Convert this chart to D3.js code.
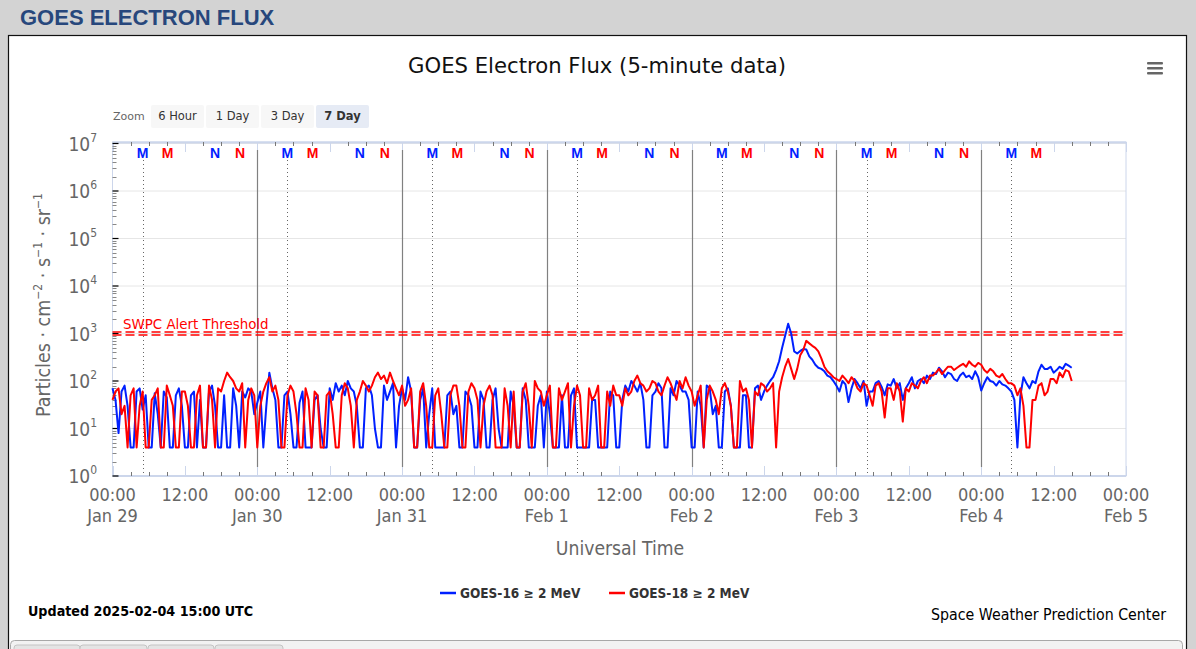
<!DOCTYPE html>
<html>
<head>
<meta charset="utf-8">
<script src="https://cdn.jsdelivr.net/npm/d3@7"></script>
<style>
  html, body { margin: 0; padding: 0; background: #d3d3d3; }
  svg { display: block; }
</style>
</head>
<body>
<svg id="chart" width="1196" height="649"></svg>
<script>
// ---------------- DATA ----------------
const seriesStart = "2025-01-29T00:00:00Z";
const stepHours = 0.5;
const seriesNames = ["GOES-16 \u2265 2 MeV", "GOES-18 \u2265 2 MeV"];
const seriesColors = ["#0020ff", "#ff0000"];
const goes16 = [
  70, 40, 8, 60, 80, 30, 4, 4, 60, 70, 25, 50, 4, 4, 55, 20, 4, 60, 45, 4, 4, 50, 70, 30,
  4, 4, 50, 60, 4, 40, 4, 4, 60, 80, 30, 4, 4, 50, 4, 4, 70, 30, 4, 60, 45, 70, 60, 20,
  35, 60, 4, 30, 150, 70, 40, 4, 4, 50, 60, 20, 4, 4, 35, 60, 4, 4, 4, 40, 50, 10, 4, 4,
  70, 40, 90, 60, 80, 50, 100, 70, 60, 30, 4, 4, 70, 80, 50, 10, 4, 4, 80, 40, 60, 90, 4, 30,
  70, 40, 120, 60, 4, 4, 40, 70, 4, 20, 70, 4, 4, 4, 4, 50, 60, 20, 30, 4, 4, 60, 50, 30,
  4, 4, 60, 40, 4, 4, 40, 70, 10, 4, 4, 4, 60, 30, 4, 4, 70, 40, 4, 4, 4, 30, 50, 4,
  60, 20, 4, 4, 4, 50, 4, 4, 50, 70, 4, 4, 4, 4, 4, 40, 40, 4, 4, 4, 4, 60, 50, 4,
  4, 40, 80, 60, 100, 80, 60, 90, 40, 4, 4, 50, 60, 90, 70, 4, 4, 70, 50, 100, 80, 60, 60, 40,
  4, 4, 60, 30, 4, 80, 70, 20, 30, 4, 4, 60, 70, 30, 4, 4, 4, 50, 50, 4, 4, 70, 80, 40,
  60, 80, 100, 120,
  170, 260, 500, 900, 1600, 1000, 420, 380, 430, 470, 460, 330, 280, 220, 190, 180, 160, 130, 120, 100,
  80, 60, 100, 85, 36, 70, 110, 90, 70, 100, 30, 60, 60, 90, 100, 75, 50, 85, 80, 110, 70, 90, 40, 70,
  90, 120, 70, 100, 110, 90, 130, 110, 150, 140, 190, 160, 120, 150, 140, 110, 100, 130, 150, 120, 130, 110, 160, 120,
  63, 90, 120, 100, 95, 80, 100, 85, 80, 70, 60, 40, 4, 50, 120, 90, 70, 100, 90, 160, 220, 180, 180, 200,
  150, 170, 200, 180, 230, 210, 190
];
const goes18 = [
  40, 60, 70, 20, 30, 4, 50, 70, 4, 30, 60, 4, 4, 40, 50, 70, 4, 4, 80, 50, 30, 4, 4, 60,
  60, 30, 4, 4, 50, 80, 4, 4, 80, 40, 4, 70, 60, 100, 150, 120, 100, 70, 60, 90, 4, 40, 70, 50,
  4, 30, 60, 90, 120, 60, 80, 40, 4, 4, 50, 80, 60, 20, 4, 4, 70, 40, 4, 60, 50, 4, 4, 50,
  60, 20, 4, 4, 50, 90, 70, 30, 4, 40, 60, 100, 80, 60, 80, 120, 150, 110, 130, 90, 150, 100, 70, 50,
  80, 30, 40, 70, 4, 4, 60, 90, 30, 4, 4, 50, 70, 20, 4, 4, 50, 80, 80, 30, 4, 4, 60, 90,
  70, 40, 4, 30, 60, 80, 50, 4, 4, 4, 70, 30, 4, 60, 4, 4, 60, 90, 30, 4, 100, 70, 60, 30,
  50, 80, 4, 4, 70, 40, 60, 90, 4, 30, 80, 50, 4, 4, 70, 40, 50, 80, 4, 4, 60, 30, 80, 50,
  50, 30, 70, 50, 60, 100, 130, 90, 80, 60, 70, 100, 90, 60, 50, 80, 120, 90, 60, 40, 100, 70, 120, 80,
  60, 30, 50, 80, 4, 40, 80, 60, 40, 20, 70, 90, 60, 30, 4, 4, 100, 60, 70, 40, 4, 60, 50, 90,
  80, 60, 70, 90,
  4, 60, 120, 200, 290, 180, 110, 180, 350, 450, 700, 620, 550, 500, 420, 300, 200, 160, 140, 120,
  110, 100, 130, 110, 90, 120, 100, 70, 60, 90, 80, 50, 30, 80, 90, 60, 17, 70, 70, 40, 90, 60, 14, 70,
  60, 90, 80, 70, 100, 120, 90, 130, 130, 150, 180, 140, 170, 200, 200, 170, 190, 210, 230, 200, 260, 220, 200, 240,
  220, 170, 150, 180, 160, 130, 120, 140, 110, 90, 90, 80, 50, 70, 30, 4, 4, 40, 40, 80, 90, 50, 60, 110,
  110, 90, 150, 120, 170, 160, 100
];
const alertThreshold = 1000;
const yExponents = [0, 1, 2, 3, 4, 5, 6, 7];
const xDomain = ["2025-01-29T00:00:00Z", "2025-02-05T00:00:00Z"];
// satellite local midnight (M) / noon (N) markers, hours after 00:00 UTC
const markerLetters = ["M", "M", "N", "N"];
const markerHours = [5.0, 9.15, 17.0, 21.15];
const markerSeries = [0, 1, 0, 1];
const markerLastTime = "2025-02-04T15:00:00Z";
const zoomButtons = ["6 Hour", "1 Day", "3 Day", "7 Day"];
const activeZoom = "7 Day";

// ---------------- DRAW ----------------
const svg = d3.select("#chart");
const FONT = "'DejaVu Sans', sans-serif";
const LFONT = "'DejaVu Sans Condensed', 'DejaVu Sans', sans-serif";

const x = d3.scaleUtc().domain(xDomain.map(d => new Date(d))).range([112.5, 1126]);
const y = d3.scaleLog().domain([1, 1e7]).range([476, 143.5]);
const plotTop = 142, plotBottom = 476, plotLeft = 112.5, plotRight = 1126;

// page header
svg.append("text").attr("x", 20).attr("y", 25)
  .attr("font-family", "'Liberation Sans', Arial, sans-serif").attr("font-weight", "bold")
  .attr("font-size", 22).attr("fill", "#27477c").text("GOES ELECTRON FLUX");

// panel
svg.append("rect").attr("x", 8.5).attr("y", 35.5).attr("width", 1178).attr("height", 640)
  .attr("fill", "#fff").attr("stroke", "#111").attr("stroke-width", 1.2);
// lower element
svg.append("rect").attr("x", 10.5).attr("y", 640.5).attr("width", 1172).attr("height", 30).attr("rx", 4)
  .attr("fill", "#f2f2f2").attr("stroke", "#a8a8a8");
[[14, 66], [80, 67], [148, 66], [215, 68]].forEach(([a, w]) => {
  svg.append("rect").attr("x", a).attr("y", 645).attr("width", w).attr("height", 10).attr("rx", 3)
    .attr("fill", "#e4e4e4").attr("stroke", "#c4c4c4");
});

// title
svg.append("text").attr("x", 597).attr("y", 73).attr("text-anchor", "middle")
  .attr("font-family", FONT).attr("font-size", 21.2).attr("fill", "#111")
  .text("GOES Electron Flux (5-minute data)");

// hamburger
[62, 67, 72].forEach(v => svg.append("rect").attr("x", 1147).attr("y", v).attr("width", 16).attr("height", 2.6)
  .attr("rx", 1).attr("fill", "#666"));

// zoom buttons
svg.append("text").attr("x", 113).attr("y", 120).attr("font-family", FONT).attr("font-size", 11)
  .attr("fill", "#666").text("Zoom");
zoomButtons.forEach((b, i) => {
  const bx = 151 + i * 55;
  svg.append("rect").attr("x", bx).attr("y", 105).attr("width", 53).attr("height", 23).attr("rx", 2)
    .attr("fill", b === activeZoom ? "#e6ebf5" : "#f7f7f7");
  svg.append("text").attr("x", bx + 26.5).attr("y", 120).attr("text-anchor", "middle")
    .attr("font-family", FONT).attr("font-size", 11.5).attr("fill", "#333")
    .attr("font-weight", b === activeZoom ? "bold" : "normal").text(b);
});

// grid lines
const g = svg.append("g");
yExponents.forEach(e => {
  g.append("line").attr("x1", plotLeft).attr("x2", plotRight).attr("y1", y(Math.pow(10, e))).attr("y2", y(Math.pow(10, e)))
    .attr("stroke", "#e6e6e6").attr("stroke-width", 1);
});

// plot border
g.append("rect").attr("x", plotLeft).attr("y", plotTop).attr("width", plotRight - plotLeft).attr("height", plotBottom - plotTop)
  .attr("fill", "none").attr("stroke", "#ccd6eb").attr("stroke-width", 1);
g.append("line").attr("x1", plotLeft).attr("x2", plotRight).attr("y1", plotTop + 0.5).attr("y2", plotTop + 0.5)
  .attr("stroke", "#ccd6eb").attr("stroke-width", 2);
g.append("line").attr("x1", plotLeft).attr("x2", plotRight).attr("y1", plotBottom).attr("y2", plotBottom)
  .attr("stroke", "#ccd6eb").attr("stroke-width", 2);

// x ticks (top and bottom)
const majorTicks = d3.utcHour.every(12).range(x.domain()[0], new Date(+x.domain()[1] + 1));
const minorTicks = d3.utcHour.every(3).range(x.domain()[0], new Date(+x.domain()[1] + 1))
  .filter(d => d.getUTCHours() % 12 !== 0);
majorTicks.forEach(d => {
  const px = Math.round(x(d)) + 0.5;
  g.append("line").attr("x1", px).attr("x2", px).attr("y1", plotBottom).attr("y2", plotBottom - 10).attr("stroke", "#ccd6eb");
  g.append("line").attr("x1", px).attr("x2", px).attr("y1", plotTop).attr("y2", plotTop + 10).attr("stroke", "#ccd6eb");
});
minorTicks.forEach(d => {
  const px = Math.round(x(d)) + 0.5;
  g.append("line").attr("x1", px).attr("x2", px).attr("y1", plotBottom).attr("y2", plotBottom - 4).attr("stroke", "#777");
  g.append("line").attr("x1", px).attr("x2", px).attr("y1", plotTop).attr("y2", plotTop + 4).attr("stroke", "#777");
});

// y ticks (inside, on the left)
yExponents.forEach(e => {
  const v = Math.pow(10, e);
  g.append("line").attr("x1", plotLeft).attr("x2", plotLeft + 6).attr("y1", y(v)).attr("y2", y(v))
    .attr("stroke", "#000").attr("stroke-width", 1.2);
  if (e < 7) {
    for (let m = 2; m <= 9; m++) {
      const py = Math.round(y(m * v)) + 0.5;
      g.append("line").attr("x1", plotLeft).attr("x2", plotLeft + 4).attr("y1", py).attr("y2", py)
        .attr("stroke", "#888");
    }
  }
});

// y tick labels
yExponents.forEach(e => {
  const t = svg.append("text").attr("x", 97).attr("y", y(Math.pow(10, e)) + 7).attr("text-anchor", "end")
    .attr("font-family", LFONT).attr("fill", "#666");
  t.append("tspan").attr("font-size", 19).text("10");
  t.append("tspan").attr("font-size", 12).attr("dy", -9).text(e);
});

// x tick labels
majorTicks.forEach(d => {
  const px = x(d);
  svg.append("text").attr("x", px).attr("y", 501).attr("text-anchor", "middle")
    .attr("font-family", LFONT).attr("font-size", 18).attr("fill", "#666")
    .text(d3.utcFormat("%H:%M")(d));
  if (d.getUTCHours() === 0) {
    svg.append("text").attr("x", px).attr("y", 522).attr("text-anchor", "middle")
      .attr("font-family", LFONT).attr("font-size", 18).attr("fill", "#666")
      .text(d3.utcFormat("%b %-d")(d));
  }
});

// axis titles
svg.append("text").attr("x", 620).attr("y", 555).attr("text-anchor", "middle")
  .attr("font-family", LFONT).attr("font-size", 19.2).attr("fill", "#666").text("Universal Time");
const yt = svg.append("text").attr("transform", "translate(50,305) rotate(-90)").attr("text-anchor", "middle")
  .attr("font-family", LFONT).attr("font-size", 19.5).attr("fill", "#666");
yt.append("tspan").text("Particles \u00b7 cm");
yt.append("tspan").attr("font-size", 12).attr("dy", -8).text("\u22122");
yt.append("tspan").attr("dy", 8).text(" \u00b7 s");
yt.append("tspan").attr("font-size", 12).attr("dy", -8).text("\u22121");
yt.append("tspan").attr("dy", 8).text(" \u00b7 sr");
yt.append("tspan").attr("font-size", 12).attr("dy", -8).text("\u22121");

// day lines (solid) and local-midnight lines (dotted)
const days = d3.utcDay.range(x.domain()[0], x.domain()[1]);
days.slice(1).forEach(d => {
  const px = Math.round(x(d)) + 0.5;
  g.append("line").attr("x1", px).attr("x2", px).attr("y1", 150).attr("y2", 467)
    .attr("stroke", "#808080").attr("stroke-width", 1.2);
});
const lastMarker = new Date(markerLastTime);
days.forEach(d => {
  const t = new Date(+d + markerHours[0] * 3600e3);
  if (t > lastMarker) return;
  const px = Math.round(x(t)) + 0.5;
  g.append("line").attr("x1", px).attr("x2", px).attr("y1", 160).attr("y2", plotBottom)
    .attr("stroke", "#666").attr("stroke-dasharray", "1,3");
});

// M / N labels
days.forEach(d => {
  markerLetters.forEach((L, i) => {
    const t = new Date(+d + markerHours[i] * 3600e3);
    if (t > lastMarker) return;
    svg.append("text").attr("x", x(t)).attr("y", 158).attr("text-anchor", "middle")
      .attr("font-family", "'Liberation Sans', Arial, sans-serif").attr("font-weight", "bold").attr("font-size", 14)
      .attr("fill", seriesColors[markerSeries[i]]).text(L);
  });
});

// threshold
const ty = y(alertThreshold);
[-1.5, 1.5].forEach(o => g.append("line").attr("x1", plotLeft).attr("x2", plotRight).attr("y1", ty + o).attr("y2", ty + o)
  .attr("stroke", "#ff0000").attr("stroke-width", 1.6).attr("stroke-dasharray", "9,4"));
svg.append("text").attr("x", 123).attr("y", 329).attr("font-family", FONT).attr("font-size", 13.4)
  .attr("fill", "#ff0000").text("SWPC Alert Threshold");

// series
const t0 = +new Date(seriesStart);
const line = d3.line().x((v, i) => x(new Date(t0 + i * stepHours * 3600e3))).y(v => y(v));
[goes16, goes18].forEach((s, k) => {
  g.append("path").datum(s).attr("d", line).attr("fill", "none")
    .attr("stroke", seriesColors[k]).attr("stroke-width", 2).attr("stroke-linejoin", "round");
});

// legend
const legX = [440, 609];
seriesNames.forEach((n, i) => {
  svg.append("line").attr("x1", legX[i]).attr("x2", legX[i] + 16).attr("y1", 593).attr("y2", 593)
    .attr("stroke", seriesColors[i]).attr("stroke-width", 2.5);
  svg.append("text").attr("x", legX[i] + 20).attr("y", 598).attr("font-family", LFONT)
    .attr("font-size", 13.5).attr("font-weight", "bold").attr("fill", "#333").text(n);
});

// credits
svg.append("text").attr("x", 28).attr("y", 616).attr("font-family", LFONT).attr("font-size", 14.2)
  .attr("font-weight", "bold").attr("fill", "#000").text("Updated 2025-02-04 15:00 UTC");
svg.append("text").attr("x", 1166).attr("y", 620).attr("text-anchor", "end").attr("font-family", LFONT)
  .attr("font-size", 15.8).attr("fill", "#000").text("Space Weather Prediction Center");
</script>
</body>
</html>
